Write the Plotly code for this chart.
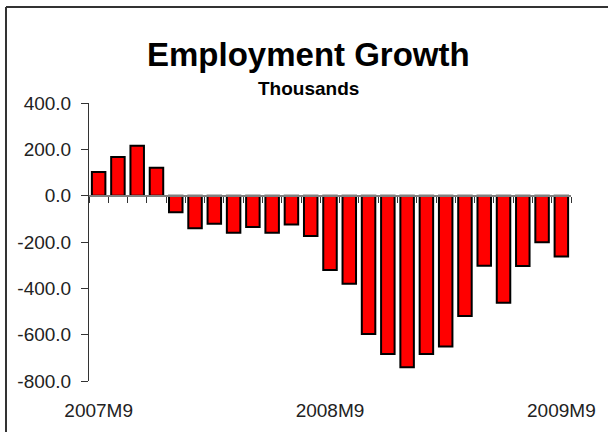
import plotly.graph_objects as go

# Monthly change in payroll employment, thousands
months = [
    "2007M9", "2007M10", "2007M11", "2007M12",
    "2008M1", "2008M2", "2008M3", "2008M4", "2008M5", "2008M6",
    "2008M7", "2008M8", "2008M9", "2008M10", "2008M11", "2008M12",
    "2009M1", "2009M2", "2009M3", "2009M4", "2009M5", "2009M6",
    "2009M7", "2009M8", "2009M9",
]
growth = [
    102, 167, 216, 121, -72, -141, -121, -160, -135, -160, -125, -174,
    -321, -380, -597, -683, -741, -683, -651, -519, -302, -462, -304,
    -201, -263,
]
label_months = ["2007M9", "2008M9", "2009M9"]
y_ticks = [-800, -600, -400, -200, 0, 200, 400]
y_range = [-800, 400]

font_family = "Liberation Sans, Arial, sans-serif"
ink = "#222222"

fig = go.Figure()
fig.add_trace(go.Bar(
    x=months,
    y=growth,
    marker=dict(color="#ff0000", line=dict(color="#000000", width=2)),
    xaxis="x",
    yaxis="y",
    showlegend=False,
    hoverinfo="x+y",
))
# empty carrier so the labelled bottom axis gets drawn
label_pos = [months.index(m) for m in label_months]
fig.add_trace(go.Scatter(
    x=label_pos,
    y=[None] * len(label_pos),
    mode="markers",
    xaxis="x2",
    yaxis="y",
    showlegend=False,
    hoverinfo="skip",
))

# the category axis sits on the zero line, ticks at month boundaries
zero_pos = (0 - y_range[0]) / (y_range[1] - y_range[0])

# chart-area frame (its right and bottom edges fall outside the page)
frame_left, frame_top = -0.1722, 1.345
frame_right, frame_bottom = 1.3, -0.5
frame_line = dict(color="#333333", width=2)

fig.update_layout(
    width=608,
    height=432,
    margin=dict(l=89, r=37, t=103, b=51, pad=0, autoexpand=False),
    paper_bgcolor="white",
    plot_bgcolor="white",
    bargap=0.3,
    font=dict(family=font_family, size=19, color=ink),
    xaxis=dict(
        type="category",
        categoryorder="array",
        categoryarray=months,
        range=[-0.5, len(months) - 0.5],
        anchor="free",
        position=zero_pos,
        showline=True,
        linecolor="#808080",
        linewidth=2,
        ticks="outside",
        tickson="boundaries",
        ticklen=6,
        tickcolor="#333333",
        tickwidth=1,
        showticklabels=False,
        showgrid=False,
        zeroline=False,
        automargin=False,
    ),
    xaxis2=dict(
        type="linear",
        overlaying="x",
        anchor="y",
        side="bottom",
        range=[-0.5, len(months) - 0.5],
        tickmode="array",
        tickvals=label_pos,
        ticktext=label_months,
        ticks="",
        showline=False,
        showgrid=False,
        zeroline=False,
        ticklabelstandoff=16,
        automargin=False,
        tickfont=dict(family=font_family, size=19, color=ink),
    ),
    yaxis=dict(
        range=y_range,
        tickmode="array",
        tickvals=y_ticks,
        ticktext=[f"{v:.1f}" for v in y_ticks],
        showline=True,
        linecolor="#333333",
        linewidth=1,
        ticks="outside",
        ticklen=7,
        tickcolor="#333333",
        showgrid=False,
        zeroline=False,
        ticklabelstandoff=6,
        automargin=False,
        tickfont=dict(family=font_family, size=19, color=ink),
    ),
    annotations=[
        dict(
            text="<b>Employment Growth</b>",
            xref="paper", yref="paper",
            x=0.4564, y=1.176,
            xanchor="center", yanchor="middle",
            showarrow=False,
            font=dict(family=font_family, size=33, color="#000000"),
        ),
        dict(
            text="<b>Thousands</b>",
            xref="paper", yref="paper",
            x=0.4564, y=1.052,
            xanchor="center", yanchor="middle",
            showarrow=False,
            font=dict(family=font_family, size=19, color="#000000"),
        ),
    ],
    shapes=[
        dict(type="line", xref="paper", yref="paper",
             x0=frame_left, x1=frame_right, y0=frame_top, y1=frame_top,
             line=frame_line, layer="below"),
        dict(type="line", xref="paper", yref="paper",
             x0=frame_left, x1=frame_left, y0=frame_bottom, y1=frame_top,
             line=frame_line, layer="below"),
    ],
)

fig.write_html("out.html")
